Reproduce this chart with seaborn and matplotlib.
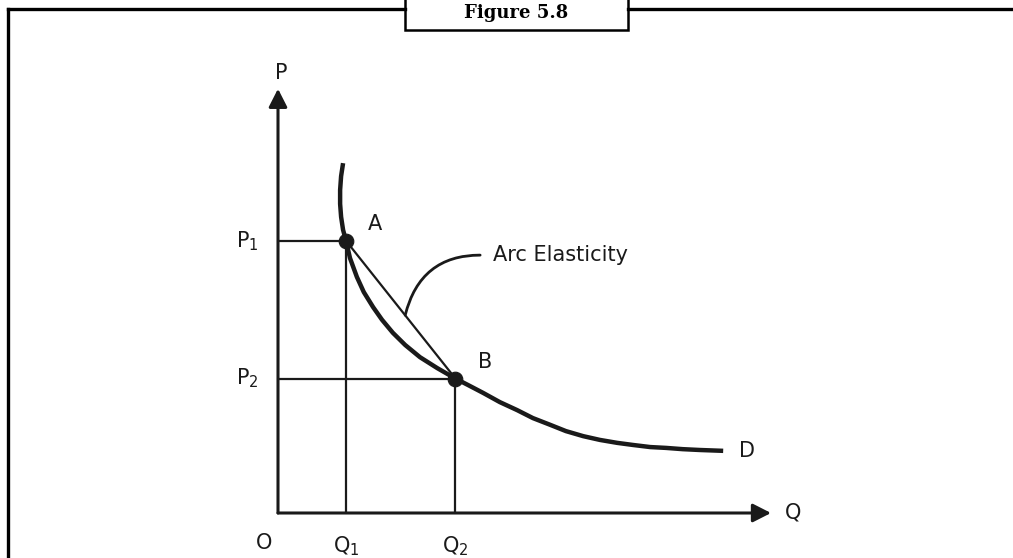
import seaborn as sns
import pandas as pd
import numpy as np
import matplotlib.pyplot as plt
from matplotlib.lines import Line2D
from matplotlib.patches import Rectangle

# Demand curve D (Q, P)
curva_q = [1.32, 1.28, 1.26, 1.26, 1.28, 1.32, 1.38, 1.46, 1.60, 1.74, 1.93, 2.11, 2.33, 2.58,
           2.88, 3.23, 3.60, 3.85, 4.16, 4.50, 4.85, 5.17, 5.52, 5.84, 6.19, 6.53, 6.88, 7.20,
           7.55, 7.87, 8.21, 8.56, 9.03]
curva_p = [8.33, 8.02, 7.69, 7.36, 7.05, 6.74, 6.48, 6.07, 5.62, 5.26, 4.90, 4.60, 4.29, 4.00,
           3.71, 3.45, 3.20, 3.05, 2.86, 2.64, 2.45, 2.26, 2.10, 1.95, 1.83, 1.74, 1.67, 1.62,
           1.57, 1.55, 1.52, 1.50, 1.48]

# Points A and B
pontos = ['A', 'B']
q_pontos = [1.38, 3.60]
p_pontos = [6.48, 3.20]

# axis lengths
q_max = 10.0
p_max = 10.1

# leader line of the "Arc Elasticity" label: point on the chord -> end near the text
chord_pt = (2.58, 4.71)
leader_end = (4.10, 6.14)

titulo = 'Figure 5.8'
cor = '#1a1a1a'

sns.set_style('white')
plt.rcParams['font.family'] = ['DejaVu Sans']

W, H = 1013, 558
fig = plt.figure(figsize=(W / 100, H / 100), dpi=100)
ax = fig.add_axes([0, 0, 1, 1])
ax.set_axis_off()

# pixel layout: origin at (278, 513), 49.3 px per Q unit, 42 px per P unit
ox, oy, sx, sy = 278, 513, 49.3, 42
ax.set_xlim(-ox / sx, (W - ox) / sx)
ax.set_ylim(-(H - oy) / sy, oy / sy)

# outer frame (top and left only) + title tab
def px(x, y):
    return x / W, 1 - y / H

for (x0, y0), (x1, y1) in [((8, 9), (405, 9)), ((628, 9), (1013, 9)), ((8, 9), (8, 558))]:
    a, b = px(x0, y0)
    c, d = px(x1, y1)
    fig.add_artist(Line2D([a, c], [b, d], color='black', lw=2.4, solid_capstyle='projecting'))
rx, ry = px(405, 30)
fig.add_artist(Rectangle((rx, ry), (628 - 405) / W, 40 / H, facecolor='white',
                         edgecolor='black', lw=1.8, transform=fig.transFigure))
tx, ty = px(516, 13)
fig.text(tx, ty, titulo, ha='center', va='center', fontsize=13, fontweight='bold',
         family='DejaVu Serif', color='black')

# axes with arrows
arrow = dict(arrowstyle='-|>,head_length=0.55,head_width=0.28', lw=2.2, color=cor,
             shrinkA=0, shrinkB=0, mutation_scale=20)
ax.annotate('', xy=(q_max, 0), xytext=(0, 0), arrowprops=arrow)
ax.annotate('', xy=(0, p_max), xytext=(0, 0), arrowprops=arrow)

# guide lines to the axes
for q, p in zip(q_pontos, p_pontos):
    ax.plot([0, q], [p, p], color=cor, lw=1.6)
    ax.plot([q, q], [0, p], color=cor, lw=1.6)

# chord A-B
ax.plot(q_pontos, p_pontos, color=cor, lw=1.6)

# demand curve
df = pd.DataFrame({'Q': curva_q, 'P': curva_p})
sns.lineplot(data=df, x='Q', y='P', sort=False, estimator=None, color=cor, lw=3.2,
             ax=ax, legend=False, solid_joinstyle='round', solid_capstyle='butt')

# points A and B
sns.scatterplot(x=q_pontos, y=p_pontos, s=110, color=cor, edgecolor=cor, zorder=5, ax=ax)

# leader line
ax.annotate('', xy=chord_pt, xytext=leader_end,
            arrowprops=dict(arrowstyle='-', lw=2.0, color=cor, shrinkA=0, shrinkB=0,
                            connectionstyle='angle3,angleA=0,angleB=76'))

fs = 15
ax.text(leader_end[0] + 0.27, leader_end[1], 'Arc Elasticity', fontsize=fs, color=cor,
        ha='left', va='center')
for nome, q, p in zip(pontos, q_pontos, p_pontos):
    ax.annotate(nome, (q, p), xytext=(21, 12), textcoords='offset points', fontsize=fs,
                color=cor, ha='center', va='center')
ax.annotate('D', (curva_q[-1], curva_p[-1]), xytext=(17, 0), textcoords='offset points',
            fontsize=fs, color=cor, ha='center', va='center')

ax.text(0.06, p_max + 0.38, 'P', fontsize=fs, color=cor, ha='center', va='center')
ax.text(q_max + 0.45, 0.02, 'Q', fontsize=fs, color=cor, ha='center', va='center')
ax.text(-0.28, -0.71, 'O', fontsize=fs, color=cor, ha='center', va='center')
for i, (q, p) in enumerate(zip(q_pontos, p_pontos), start=1):
    ax.text(q, -0.78, f'Q$_{i}$', fontsize=fs, color=cor, ha='center', va='center')
    ax.text(-0.63, p, f'P$_{i}$', fontsize=fs, color=cor, ha='center', va='center')

fig.savefig('out.png', dpi=100, facecolor='white')
